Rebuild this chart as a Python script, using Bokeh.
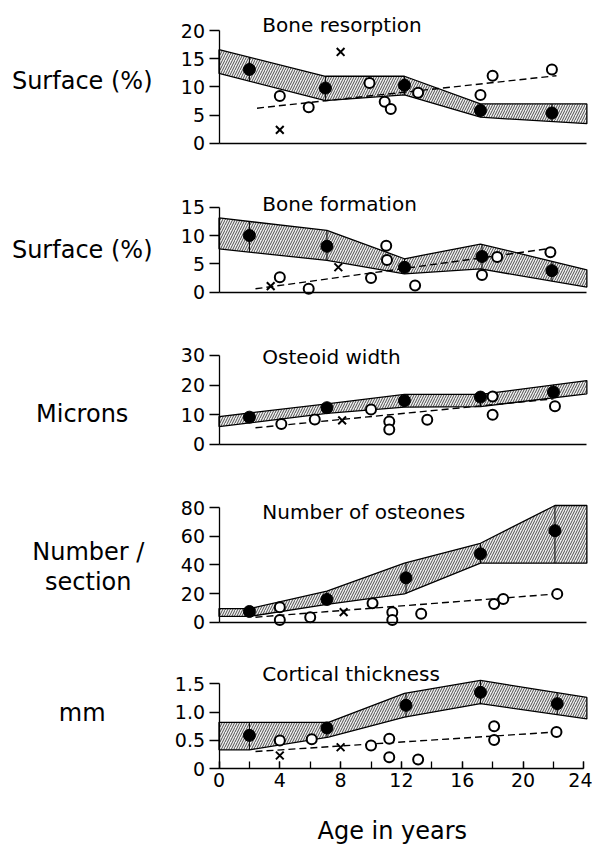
from bokeh.plotting import figure
from bokeh.models import Range1d, LinearAxis, FixedTicker
from bokeh.layouts import column
from bokeh.embed import file_html
from bokeh.resources import INLINE
from bokeh.core.properties import value

FONT = "DejaVu Sans"

# ---------------- data ----------------
# Panel 1: Bone resorption, Surface (%)
res_band_x = [0, 7.0, 12.2, 17.2, 24.2]
res_band_hi = [16.6, 11.9, 11.9, 7.0, 7.0]
res_band_lo = [12.4, 7.6, 8.6, 4.65, 3.5]
res_mean_x = [2.0, 7.0, 12.2, 17.2, 21.9]
res_mean_y = [13.1, 9.8, 10.3, 5.85, 5.4]
res_sd_lo = [11.0, 7.6, 8.6, 4.65, 3.9]
res_sd_hi = [15.3, 11.9, 11.9, 7.0, 7.0]
res_open_x = [4.0, 5.9, 9.9, 10.9, 11.3, 13.1, 17.2, 18.0, 21.9]
res_open_y = [8.4, 6.4, 10.7, 7.4, 6.1, 9.0, 8.6, 12.0, 13.1]
res_cross_x = [4.0, 8.0]
res_cross_y = [2.4, 16.2]
res_fit_x = [2.5, 22.2]
res_fit_y = [6.25, 12.0]
res_ticks = [0, 5, 10, 15, 20]
res_tick_labels = ["0", "5", "10", "15", "20"]

# Panel 2: Bone formation, Surface (%)
frm_band_x = [0, 7.1, 12.2, 17.2, 24.2]
frm_band_hi = [13.1, 10.9, 5.9, 8.5, 3.95]
frm_band_lo = [7.65, 5.6, 3.25, 4.1, 0.9]
frm_mean_x = [2.0, 7.1, 12.2, 17.3, 21.9]
frm_mean_y = [10.0, 8.1, 4.4, 6.3, 3.8]
frm_sd_lo = [7.1, 5.6, 3.25, 4.1, 1.95]
frm_sd_hi = [12.5, 10.9, 5.9, 8.5, 5.4]
frm_open_x = [4.0, 5.9, 10.0, 11.0, 11.05, 12.9, 17.3, 18.3, 21.8]
frm_open_y = [2.65, 0.6, 2.5, 8.2, 5.7, 1.2, 3.05, 6.2, 7.05]
frm_cross_x = [3.4, 7.85]
frm_cross_y = [1.06, 4.4]
frm_fit_x = [2.4, 22.0]
frm_fit_y = [0.6, 7.8]
frm_ticks = [0, 5, 10, 15]
frm_tick_labels = ["0", "5", "10", "15"]

# Panel 3: Osteoid width, Microns
ost_band_x = [0, 7.1, 12.2, 17.2, 24.2]
ost_band_hi = [9.3, 13.6, 16.8, 16.8, 21.5]
ost_band_lo = [5.9, 10.4, 12.5, 12.7, 17.0]
ost_mean_x = [2.0, 7.1, 12.2, 17.2, 22.0]
ost_mean_y = [9.1, 12.3, 14.7, 15.9, 17.6]
ost_sd_lo = [7.2, 10.4, 12.5, 12.7, 15.7]
ost_sd_hi = [10.5, 13.6, 16.8, 16.8, 20.1]
ost_open_x = [4.1, 6.3, 10.0, 11.2, 11.2, 13.7, 18.0, 18.0, 22.1]
ost_open_y = [6.8, 8.3, 11.7, 7.6, 4.9, 8.2, 9.9, 16.1, 12.8]
ost_cross_x = [8.1]
ost_cross_y = [8.0]
ost_fit_x = [2.4, 22.0]
ost_fit_y = [5.5, 15.3]
ost_ticks = [0, 10, 20, 30]
ost_tick_labels = ["0", "10", "20", "30"]

# Panel 4: Number of osteones, Number / section
num_band_x = [0, 2.0, 7.1, 12.2, 17.2, 22.1, 24.2]
num_band_hi = [9.5, 9.5, 21.7, 41.3, 55.2, 81.6, 81.6]
num_band_lo = [4.0, 4.0, 12.4, 19.8, 41.3, 41.3, 41.3]
num_mean_x = [2.0, 7.1, 12.3, 17.2, 22.1]
num_mean_y = [7.5, 15.9, 31.0, 47.8, 64.0]
num_sd_lo = [4.0, 12.4, 19.8, 41.3, 41.3]
num_sd_hi = [9.5, 21.7, 41.3, 55.2, 81.6]
num_open_x = [4.0, 4.0, 6.0, 10.1, 11.4, 11.4, 13.3, 18.1, 18.7, 22.25]
num_open_y = [10.5, 1.6, 3.5, 13.3, 7.0, 1.6, 5.9, 12.8, 16.3, 19.8]
num_cross_x = [8.2]
num_cross_y = [7.0]
num_fit_x = [2.4, 22.25]
num_fit_y = [3.5, 19.8]
num_ticks = [0, 20, 40, 60, 80]
num_tick_labels = ["0", "20", "40", "60", "80"]

# Panel 5: Cortical thickness, mm
cor_band_x = [0, 2.0, 7.2, 12.2, 17.2, 24.2]
cor_band_hi = [0.82, 0.82, 0.82, 1.33, 1.56, 1.26]
cor_band_lo = [0.335, 0.335, 0.56, 0.91, 1.15, 0.88]
cor_mean_x = [2.0, 7.1, 12.3, 17.2, 22.25]
cor_mean_y = [0.59, 0.72, 1.12, 1.35, 1.15]
cor_sd_lo = [0.335, 0.555, 0.91, 1.15, 0.955]
cor_sd_hi = [0.82, 0.82, 1.33, 1.56, 1.34]
cor_open_x = [4.0, 6.1, 10.0, 11.2, 11.2, 13.1, 18.1, 18.1, 22.2]
cor_open_y = [0.50, 0.52, 0.41, 0.53, 0.205, 0.165, 0.75, 0.51, 0.65]
cor_cross_x = [4.0, 8.0]
cor_cross_y = [0.235, 0.38]
cor_fit_x = [2.4, 22.2]
cor_fit_y = [0.305, 0.65]
cor_ticks = [0, 0.5, 1.0, 1.5]
cor_tick_labels = ["0", "0.5", "1.0", "1.5"]

# Age axis
age_ticks = [0, 4, 8, 12, 16, 20, 24]
age_minor_ticks = [0, 2, 4, 6, 8, 10, 12, 14, 16, 18, 20, 22, 24]
age_label = "Age in years"

titles = ["Bone resorption", "Bone formation", "Osteoid width",
          "Number of osteones", "Cortical thickness"]
ylabels = ["Surface (%)", "Surface (%)", "Microns", "Number /\nsection", "mm"]

# ---------------- layout (positions/sizes) ----------------
W = 592
X_RANGE = (-14.375, 24.57)
heights = [170, 148, 152, 172, 206]
y_ranges = [(-4.78, 25.31), (-4.641, 21.475), (-8.98, 42.54),
            (-14.2, 106.08), (-1.4064, 2.2287)]
title_pos = [(2.85, 20.9), (2.85, 15.6), (2.85, 29.4), (2.85, 76.9), (2.85, 1.68)]
ylabel_pos = [(-9.0, 11.0), (-9.0, 7.36), (-9.0, 10.3), (-8.6, 38.6), (-9.0, 0.99)]
age_label_pos = (11.4, -1.089)


def make_panel(i, band_x, band_lo, band_hi, mx, my, sdlo, sdhi, ox, oy, cx, cy,
               fx, fy, ticks, tick_labels, bottom=False):
    p = figure(width=W, height=heights[i], x_range=Range1d(*X_RANGE),
               y_range=Range1d(*y_ranges[i]), output_backend="svg",
               toolbar_location=None, x_axis_location=None, y_axis_location=None,
               min_border=0, background_fill_color="white",
               border_fill_color="white")
    p.outline_line_color = None
    p.xgrid.visible = False
    p.ygrid.visible = False

    px = list(band_x) + list(band_x)[::-1]
    py = list(band_hi) + list(band_lo)[::-1]
    p.patch(px, py, fill_color="#f0f0f0", line_color="black", line_width=1.3,
            hatch_pattern="/", hatch_color="black", hatch_scale=5,
            hatch_weight=0.8, hatch_alpha=0.85)
    p.segment(mx, sdlo, mx, sdhi, line_color="black", line_width=1.0)
    p.line(fx, fy, line_color="black", line_width=1.4, line_dash="7 4")
    p.scatter(ox, oy, marker="circle", size=10, fill_color="white",
              line_color="black", line_width=2)
    p.scatter(cx, cy, marker="x", size=11, line_color="black", line_width=2)
    p.scatter(mx, my, marker="circle", size=12, fill_color="black",
              line_color="black")

    # y axis at x = 0
    yax = LinearAxis(fixed_location=0, bounds=(0, ticks[-1]),
                     ticker=FixedTicker(ticks=ticks, minor_ticks=[]))
    yax.major_label_overrides = {t: l for t, l in zip(ticks, tick_labels)}
    yax.major_tick_out = 10
    yax.major_tick_in = 0
    yax.major_tick_line_width = 1.3
    yax.axis_line_width = 1.3
    yax.major_label_standoff = 4
    yax.major_label_text_font = FONT
    yax.major_label_text_font_size = "19px"
    yax.major_label_text_color = "black"
    p.add_layout(yax, "left")

    # x baseline at y = 0
    if bottom:
        xax = LinearAxis(fixed_location=0, bounds=(0, 24),
                         ticker=FixedTicker(ticks=age_ticks, minor_ticks=age_minor_ticks))
        xax.major_tick_in = 7
        xax.major_tick_out = 0
        xax.minor_tick_in = 7
        xax.minor_tick_out = 0
        xax.major_tick_line_width = 1.3
        xax.minor_tick_line_width = 1.3
        xax.major_label_standoff = 4
        xax.major_label_text_font = FONT
        xax.major_label_text_font_size = "19px"
        xax.major_label_text_color = "black"
    else:
        xax = LinearAxis(fixed_location=0, bounds=(0, 24.2),
                         ticker=FixedTicker(ticks=[], minor_ticks=[]))
        xax.major_tick_line_color = None
        xax.minor_tick_line_color = None
        xax.major_label_text_font_size = "0px"
    xax.axis_line_width = 1.3
    p.add_layout(xax, "below")

    tx, ty = title_pos[i]
    p.text(x=[tx], y=[ty], text=[titles[i]], text_font=value(FONT),
           text_font_size="20px", text_align="left", text_baseline="middle",
           text_color="black")
    lx, ly = ylabel_pos[i]
    p.text(x=[lx], y=[ly], text=[ylabels[i]], text_font=value(FONT),
           text_font_size="24px", text_align="center", text_baseline="middle",
           text_color="black", text_line_height=1.1)
    if bottom:
        ax_, ay_ = age_label_pos
        p.text(x=[ax_], y=[ay_], text=[age_label], text_font=value(FONT),
               text_font_size="24px", text_align="center",
               text_baseline="middle", text_color="black")
    return p


p1 = make_panel(0, res_band_x, res_band_lo, res_band_hi, res_mean_x, res_mean_y,
                res_sd_lo, res_sd_hi, res_open_x, res_open_y, res_cross_x, res_cross_y,
                res_fit_x, res_fit_y, res_ticks, res_tick_labels)
p2 = make_panel(1, frm_band_x, frm_band_lo, frm_band_hi, frm_mean_x, frm_mean_y,
                frm_sd_lo, frm_sd_hi, frm_open_x, frm_open_y, frm_cross_x, frm_cross_y,
                frm_fit_x, frm_fit_y, frm_ticks, frm_tick_labels)
p3 = make_panel(2, ost_band_x, ost_band_lo, ost_band_hi, ost_mean_x, ost_mean_y,
                ost_sd_lo, ost_sd_hi, ost_open_x, ost_open_y, ost_cross_x, ost_cross_y,
                ost_fit_x, ost_fit_y, ost_ticks, ost_tick_labels)
p4 = make_panel(3, num_band_x, num_band_lo, num_band_hi, num_mean_x, num_mean_y,
                num_sd_lo, num_sd_hi, num_open_x, num_open_y, num_cross_x, num_cross_y,
                num_fit_x, num_fit_y, num_ticks, num_tick_labels)
p5 = make_panel(4, cor_band_x, cor_band_lo, cor_band_hi, cor_mean_x, cor_mean_y,
                cor_sd_lo, cor_sd_hi, cor_open_x, cor_open_y, cor_cross_x, cor_cross_y,
                cor_fit_x, cor_fit_y, cor_ticks, cor_tick_labels, bottom=True)

layout = column(p1, p2, p3, p4, p5, spacing=0)

with open("out.html", "w") as f:
    f.write(file_html(layout, INLINE))
